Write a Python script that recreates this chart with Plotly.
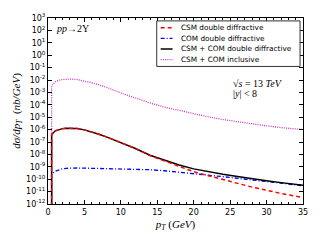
import plotly.graph_objects as go

# ---------------- data ----------------
pt = [0.5, 0.5, 1, 1.5, 2, 2.5, 3, 4, 5, 6, 7, 8, 10, 12, 14, 16, 18, 20, 22, 24, 26, 28, 30, 32, 35]

csm_dd = [1e-15, 4.0e-7, 8.0e-7, 1.05e-6, 1.2e-6, 1.28e-6, 1.3e-6, 1.2e-6, 9.5e-7, 6.5e-7, 4.2e-7, 2.6e-7,
          9.0e-8, 3.0e-8, 8.0e-9, 3.0e-9, 1.0e-9, 4.0e-10, 1.9e-10, 9.0e-11, 4.5e-11, 2.3e-11, 1.3e-11,
          7.0e-12, 3.3e-12]
com_dd = [1e-15, 2.5e-10, 4.5e-10, 6.0e-10, 7.0e-10, 7.6e-10, 8.0e-10, 8.0e-10, 7.8e-10, 7.6e-10, 7.5e-10,
          7.4e-10, 7.2e-10, 6.6e-10, 5.8e-10, 4.8e-10, 3.8e-10, 2.8e-10, 2.1e-10, 1.6e-10, 1.2e-10, 8.5e-11,
          6.5e-11, 4.8e-11, 3.0e-11]
tot_dd = [1e-15, 4.0e-7, 8.0e-7, 1.05e-6, 1.2e-6, 1.28e-6, 1.3e-6, 1.2e-6, 9.5e-7, 6.5e-7, 4.2e-7, 2.6e-7,
          9.0e-8, 3.0e-8, 8.5e-9, 3.5e-9, 1.4e-9, 6.8e-10, 4.0e-10, 2.5e-10, 1.65e-10, 1.05e-10, 7.5e-11,
          5.3e-11, 3.2e-11]
tot_incl = [1e-15, 3.6e-3, 7.0e-3, 9.5e-3, 1.1e-2, 1.18e-2, 1.2e-2, 1.1e-2, 8.5e-3, 6.0e-3, 4.0e-3, 2.6e-3,
            9.0e-4, 3.6e-4, 1.4e-4, 6.5e-5, 3.4e-5, 1.9e-5, 1.07e-5, 6.5e-6, 4.2e-6, 2.8e-6, 2.0e-6,
            1.45e-6, 1.0e-6]

names = ["CSM double diffractive", "COM double diffractive",
         "CSM + COM double diffractive", "CSM + COM inclusive"]
series = [csm_dd, com_dd, tot_dd, tot_incl]
colors = ["#ff0000", "#0000ff", "#000000", "#cc33cc"]
dashes = ["4px,3px", "4px,2px,1px,2px", "solid", "1px,1.2px"]
widths = [1.5, 1.3, 1.5, 1.3]

x_ticks = [0, 5, 10, 15, 20, 25, 30, 35]
y_exps = list(range(-12, 4))
y_tickvals = [10.0 ** e for e in y_exps]
y_ticktext = ["10<sup>%d</sup>" % e for e in y_exps]

# ---------------- figure ----------------
fig = go.Figure()
# draw order: inclusive, COM, total, CSM on top like reference
for i in [3, 1, 2, 0]:
    fig.add_trace(go.Scatter(x=pt, y=series[i], mode="lines", name=names[i], showlegend=False,
                             line=dict(color=colors[i], dash=dashes[i], width=widths[i])))

L, R, T, B = 48, 14, 13, 35
W, H = 320, 240
pw, ph = W - L - R, H - T - B

def px(x):
    return (x - L) / pw

def py(y):
    return (H - B - y) / ph

shapes = []
annotations = []
# legend box
shapes.append(dict(type="rect", xref="paper", yref="paper", x0=px(158), x1=px(303), y0=py(63), y1=py(16),
                   line=dict(color="#333333", width=1), fillcolor="white", layer="above"))
rows = [23, 34, 45, 56]
for i, r in enumerate(rows):
    shapes.append(dict(type="line", xref="paper", yref="paper", x0=px(162), x1=px(174), y0=py(r), y1=py(r),
                       line=dict(color=colors[i], dash=dashes[i], width=widths[i]), layer="above"))
    annotations.append(dict(xref="paper", yref="paper", x=px(181), y=py(r), text=names[i], showarrow=False,
                            xanchor="left", yanchor="middle", font=dict(family="DejaVu Sans", size=7.3, color="black")))

serif = "Liberation Serif"
annotations.append(dict(xref="paper", yref="paper", x=px(54), y=py(24), text="<i>pp</i>→2Υ", showarrow=False,
                        xanchor="left", yanchor="middle", font=dict(family=serif, size=10, color="black")))
annotations.append(dict(xref="paper", yref="paper", x=px(233), y=py(81), text="√<i>s</i> = 13 <i>TeV</i>",
                        showarrow=False, xanchor="left", yanchor="middle", font=dict(family=serif, size=10, color="black")))
annotations.append(dict(xref="paper", yref="paper", x=px(233), y=py(91), text="|<i>y</i>| < 8",
                        showarrow=False, xanchor="left", yanchor="middle", font=dict(family=serif, size=10, color="black")))

fig.update_layout(
    width=W, height=H,
    margin=dict(l=L, r=R, t=T, b=B, pad=0),
    paper_bgcolor="white", plot_bgcolor="white",
    showlegend=False,
    shapes=shapes, annotations=annotations,
    xaxis=dict(range=[0, 35], tickvals=x_ticks, ticks="inside", ticklen=4, tickcolor="black",
               showline=True, linecolor="black", linewidth=1, mirror="allticks", showgrid=False, zeroline=False,
               tickfont=dict(family="DejaVu Sans", size=8, color="black"),
               minor=dict(dtick=1, ticks="inside", ticklen=2, tickcolor="black", showgrid=False),
               title=dict(text="<i>p<sub>T</sub></i> (<i>GeV</i>)", standoff=4,
                          font=dict(family=serif, size=11, color="black"))),
    yaxis=dict(type="log", range=[-12, 3], tickvals=y_tickvals, ticktext=y_ticktext, ticks="inside", ticklen=4,
               tickcolor="black", showline=True, linecolor="black", linewidth=1, mirror="allticks",
               showgrid=False, zeroline=False,
               tickfont=dict(family="DejaVu Sans", size=8, color="black"),
               title=dict(text="<i>dσ/dp<sub>T</sub></i>  (<i>nb/GeV</i>)", standoff=3,
                          font=dict(family=serif, size=11, color="black"))),
)

fig.write_html("out.html", config={"displayModeBar": False},
               post_script="document.body.style.margin='0';document.body.style.overflow='hidden';")
